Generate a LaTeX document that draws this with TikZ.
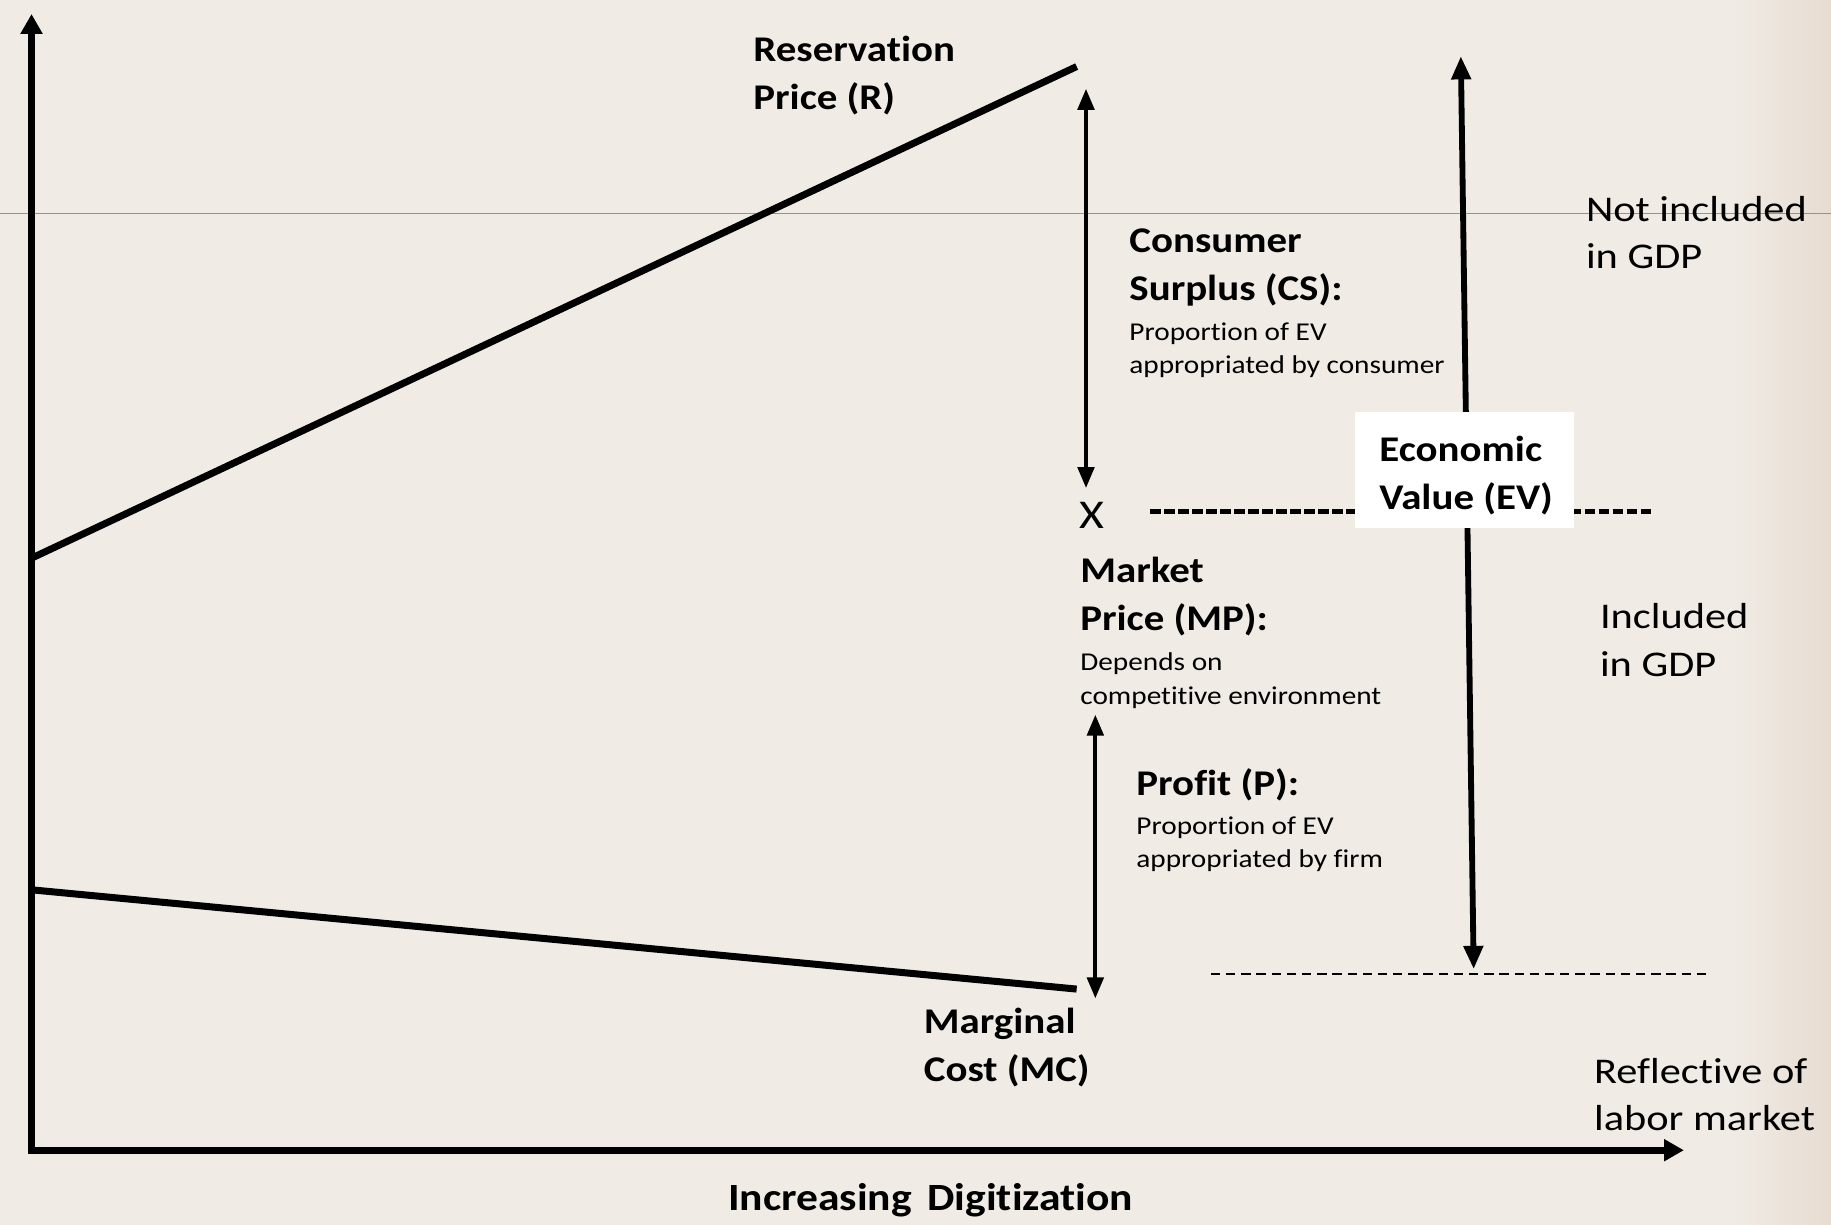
\documentclass[tikz,border=0pt]{standalone}
\usepackage{fontspec}
\setmainfont{Carlito}
\newfontfamily\bigfont[FakeStretch=1.13,Ligatures=NoCommon]{Carlito}
\newfontfamily\smallfont[FakeStretch=1.14,Ligatures=NoCommon]{Carlito}
\newfontfamily\plainfont[FakeStretch=1.17,Ligatures=NoCommon]{Carlito}
\usetikzlibrary{arrows.meta}
\definecolor{paper}{RGB}{240,236,229}
\definecolor{paperedge}{RGB}{231,220,210}
\definecolor{thinline}{RGB}{150,146,140}
\begin{document}
\begin{tikzpicture}[x=1pt,y=-1pt,
  big/.style={font=\bigfont\fontsize{31}{41}\selectfont\bfseries, align=left, inner sep=0pt, anchor=base west},
  small/.style={font=\smallfont\fontsize{22}{28.5}\selectfont, align=left, inner sep=0pt, anchor=base west},
  plain/.style={font=\plainfont\fontsize{31}{40.5}\selectfont, align=left, inner sep=0pt, anchor=base west},
  axisline/.style={line width=6pt, line join=miter},
  curve/.style={line width=6pt},
  twoway/.style={line width=3.5pt, {Triangle[length=18pt,width=14pt]}-{Triangle[length=18pt,width=14pt]}},
  evarrow/.style={line width=5pt, {Triangle[length=20pt,width=16pt]}-{Triangle[length=20pt,width=16pt]}},
  thickdots/.style={line width=5pt, dash pattern=on 9pt off 3pt},
  thindash/.style={line width=2pt, dash pattern=on 8pt off 5pt},
  evbox/.style={fill=white, minimum width=188pt, minimum height=99pt, inner sep=0pt}
]
% background
\fill[paper] (0,0) rectangle (1568,1049);
\shade[left color=paper, right color=paperedge] (1480,0) rectangle (1568,1049);
\useasboundingbox (0,0) rectangle (1568,1049);

% coordinates
\coordinate (ytop) at (27,12);
\coordinate (O) at (27,985);
\coordinate (xend) at (1442,985);
\coordinate (g1) at (0,183);
\coordinate (g2) at (1568,183);
\coordinate (R0) at (27,478);
\coordinate (R1) at (922,57);
\coordinate (M0) at (27,762);
\coordinate (M1) at (922,847);
\coordinate (cs1) at (930,76);
\coordinate (cs2) at (930,418);
\coordinate (p1) at (938,612);
\coordinate (p2) at (938,855);
\coordinate (ev1) at (1251,48);
\coordinate (ev2) at (1262,830);
\coordinate (d1) at (985,438);
\coordinate (d2) at (1415,438);
\coordinate (l1) at (1037,834);
\coordinate (l2) at (1465,834);

% thin gray line
\draw[thinline, line width=1pt] (g1) -- (g2);

% axes
\draw[axisline, {Triangle[length=17pt,width=18pt]}-{Triangle[length=17pt,width=18pt]}] (ytop) -- (O) -- (xend);

% curves
\draw[curve] (R0) -- (R1);
\draw[curve] (M0) -- (M1);

% arrows
\draw[twoway] (cs1) -- (cs2);
\draw[twoway] (p1) -- (p2);

% dashed lines
\draw[thickdots] (d1) -- (d2);
\draw[thindash] (l1) -- (l2);

% EV arrow and box
\draw[evarrow] (ev1) -- (ev2);
\node[evbox] (evb) at (1254,402.5) {};
\node[big] (ev) at (1181,436) {Economic\\Value (EV)};

% labels
\node[big] (res) at (645,94) {Reservation\\Price (R)};
\node[big] (cs) at (967,257) {Consumer\\Surplus (CS):};
\node[small] (csd) at (967,320) {Proportion of EV\\appropriated by consumer};
\node[plain] (notgdp) at (1358,230) {Not included\\in GDP};
\node[plain, font=\plainfont\fontsize{35}{40}\selectfont] (xm) at (924,453) {X};
\node[big] (mp) at (925,540) {Market\\Price (MP):};
\node[small] (mpd) at (925,603) {Depends on\\competitive environment};
\node[plain] (ingdp) at (1370,579) {Included\\in GDP};
\node[big] (pr) at (973,681) {Profit (P):};
\node[small] (prd) at (973,743) {Proportion of EV\\appropriated by firm};
\node[big] (mc) at (791,926) {Marginal\\Cost (MC)};
\node[plain] (lab) at (1365,968) {Reflective of\\labor market};
\node[big, font=\bigfont\fontsize{33}{41}\selectfont\bfseries, anchor=base] (xl) at (797,1037) {Increasing\hspace{0.15em} Digitization};
\end{tikzpicture}
\end{document}
